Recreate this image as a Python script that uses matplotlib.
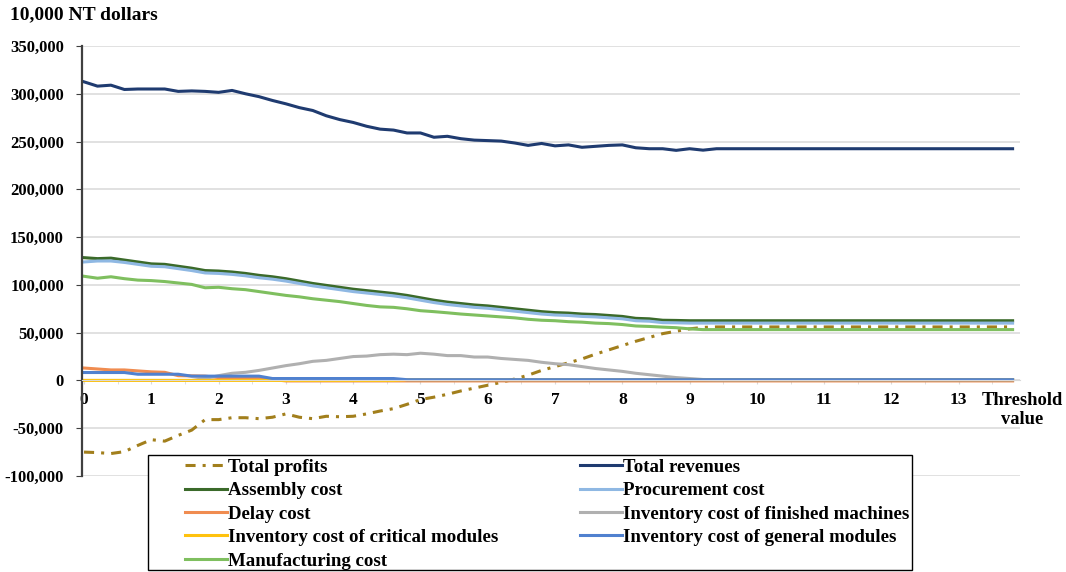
import matplotlib
matplotlib.use("Agg")
import matplotlib.pyplot as plt
from matplotlib.patches import Rectangle
from matplotlib.ticker import FuncFormatter, MultipleLocator
import numpy as np

# threshold values (0.2 steps)
x = np.round(np.arange(0, 13.81, 0.2), 1)

# values in 10,000 NT dollars (flat after ~9.4)
total_profits = [-75000, -75500, -76500, -74500, -68000, -62000, -63500, -57500, -52000, -41000,
                 -41000, -39000, -39000, -40000, -38500, -35000, -38500, -40000, -37500, -38000,
                 -37500, -35000, -32000, -29500, -25000, -20000, -17500, -14500, -11000, -8000,
                 -5000, -2000, 1500, 5500, 10500, 14500, 18500, 22500, 27500, 32000,
                 36500, 41000, 45000, 49000, 51500, 54000, 55500, 56000] + [56000] * 22
total_revenues = [312500, 308000, 309000, 304500, 305000, 305000, 305000, 302500, 303000, 302500,
                  301500, 303500, 300000, 297000, 293000, 289500, 285500, 282500, 277000, 273000,
                  270000, 266000, 263000, 262000, 259000, 259000, 254500, 255500, 253000, 251500,
                  251000, 250500, 248500, 246000, 248000, 245500, 246500, 244000, 245000, 246000,
                  246500, 243500, 242500, 242500, 240800, 242500, 241000, 242500] + [242500] * 22
assembly_cost = [128500, 127500, 128000, 126000, 124000, 122000, 121500, 119500, 117500, 115000,
                 114500, 113500, 112000, 110000, 108500, 106500, 104000, 101500, 99500, 97500,
                 95500, 94000, 92500, 91000, 89000, 86500, 84000, 82000, 80500, 79000,
                 78000, 76500, 75000, 73500, 72000, 71000, 70500, 69500, 69000, 68000,
                 67000, 65000, 64500, 63000, 62800, 62500, 62500, 62500] + [62500] * 22
procurement_cost = [124000, 125000, 125000, 123500, 121500, 119500, 119000, 117000, 115000, 112500,
                    112000, 111000, 109500, 107500, 106000, 104000, 101500, 99000, 97000, 95000,
                    93000, 91500, 90000, 88500, 86500, 84000, 81500, 79500, 78000, 76500,
                    75500, 74000, 72500, 71000, 69500, 68500, 68000, 67000, 66500, 65500,
                    64500, 62500, 62000, 60500, 60300, 60000, 60000, 60000] + [60000] * 22
delay_cost = [13000, 12000, 11000, 11000, 10000, 9000, 8500, 5000, 4800, 4500,
              3000, 2800, 2600, 2200, 1000] + [-500] * 55
finished_inv_cost = [0, 0, 0, 0, 0, 0, 0, 0, 0, 2000,
                     5000, 7500, 8500, 10500, 13000, 15500, 17500, 20000, 21000, 23000,
                     25000, 25500, 27000, 27500, 27000, 28500, 27500, 26000, 26000, 24500,
                     24500, 23000, 22000, 21000, 19000, 17500, 16500, 14500, 12500, 11000,
                     9500, 7500, 6000, 4500, 3000, 2000, 1000, 800] + [800] * 22
critical_inv_cost = [0] * 24 + [800] * 46
general_inv_cost = [8300] * 4 + [6500] * 4 + [4500] * 6 + [2000] * 10 + [800] * 46
manufacturing_cost = [109000, 107000, 108500, 106500, 105000, 104500, 103500, 102000, 100500, 97000,
                      97500, 96000, 95000, 93000, 91000, 89000, 87500, 85500, 84000, 82500,
                      80500, 78500, 77000, 76500, 75000, 73000, 72000, 70800, 69500, 68500,
                      67500, 66500, 65500, 64000, 63000, 62500, 61500, 61000, 60000, 59500,
                      58500, 57000, 56500, 55800, 55200, 54000, 53200, 53200] + [53200] * 22

series = [
    ("Total profits", total_profits, "#A27F1C"),
    ("Total revenues", total_revenues, "#1F3B70"),
    ("Assembly cost", assembly_cost, "#3B6A2A"),
    ("Procurement cost", procurement_cost, "#8FB8E3"),
    ("Delay cost", delay_cost, "#F08C50"),
    ("Inventory cost of finished machines", finished_inv_cost, "#B0B0B0"),
    ("Inventory cost of critical modules", critical_inv_cost, "#FFC20E"),
    ("Inventory cost of general modules", general_inv_cost, "#5081CF"),
    ("Manufacturing cost", manufacturing_cost, "#7FBF5F"),
]

plt.rcParams.update({
    "font.family": ["Liberation Serif", "DejaVu Serif"],
    "font.weight": "bold",
    "font.size": 12,
})

W, H = 1066, 572
fig = plt.figure(figsize=(W / 100, H / 100), dpi=100)
ax = fig.add_axes([82 / W, 1 - 476 / H, (1020 - 82) / W, (476 - 46) / H])

handles = {}
for name, vals, col in series:
    if name == "Total profits":
        ln, = ax.plot(x, vals, color=col, lw=2.2, dashes=(3.3, 2.3, 1, 2.3),
                      dash_capstyle="butt", label=name)
    else:
        ln, = ax.plot(x, vals, color=col, lw=2.2, solid_joinstyle="round", label=name)
    handles[name] = ln

ax.set_xlim(-0.03, 13.91)
ax.set_ylim(-100000, 350000)
ax.set_yticks(np.arange(-100000, 350001, 50000))
ax.yaxis.set_major_formatter(FuncFormatter(lambda v, p: f"{v:,.0f}"))
ax.grid(axis="y", color="#D9D9D9", lw=1.1)
ax.set_axisbelow(True)

ax.set_xticks(np.arange(0, 14))
ax.set_xticklabels([str(i) for i in range(14)])
ax.xaxis.set_minor_locator(MultipleLocator(0.5))

for s in ["top", "right"]:
    ax.spines[s].set_visible(False)
ax.spines["bottom"].set_position(("data", 0))
ax.spines["bottom"].set_color("#D9D9D9")
ax.spines["left"].set_color("#404040")
ax.spines["left"].set_linewidth(1.6)

ax.tick_params(axis="x", which="both", direction="out", length=3, color="#D9D9D9",
               pad=5, labelsize=12.5)
ax.tick_params(axis="y", direction="out", length=4, color="#404040", pad=9, labelsize=12)

ax.text(13.94, -31400, "Threshold\nvalue", ha="center", va="center",
        fontsize=13.3, linespacing=1.15, clip_on=False)
fig.text(10 / W, 1 - 15 / H, "10,000 NT dollars", ha="left", va="center", fontsize=14)

# legend frame drawn as its own box, two legends for the two columns
fig.patches.append(Rectangle((148 / W, 1 - 570 / H), (912 - 148) / W, (570 - 455) / H,
                             transform=fig.transFigure, facecolor="white",
                             edgecolor="black", lw=1.0, zorder=4))
col1 = ["Total profits", "Assembly cost", "Delay cost",
        "Inventory cost of critical modules", "Manufacturing cost"]
col2 = ["Total revenues", "Procurement cost", "Inventory cost of finished machines",
        "Inventory cost of general modules"]
leg_kw = dict(frameon=False, loc="upper left", borderpad=0, borderaxespad=0,
              handlelength=2.2, handletextpad=0.1, labelspacing=0.33, fontsize=13.6)
for names, x0 in [(col1, 185), (col2, 580)]:
    lg = fig.legend([handles[n] for n in names], names,
                    bbox_to_anchor=(x0 / W, 1 - 458.5 / H), **leg_kw)
    lg.set_zorder(6)

fig.savefig("out.png", dpi=100)
